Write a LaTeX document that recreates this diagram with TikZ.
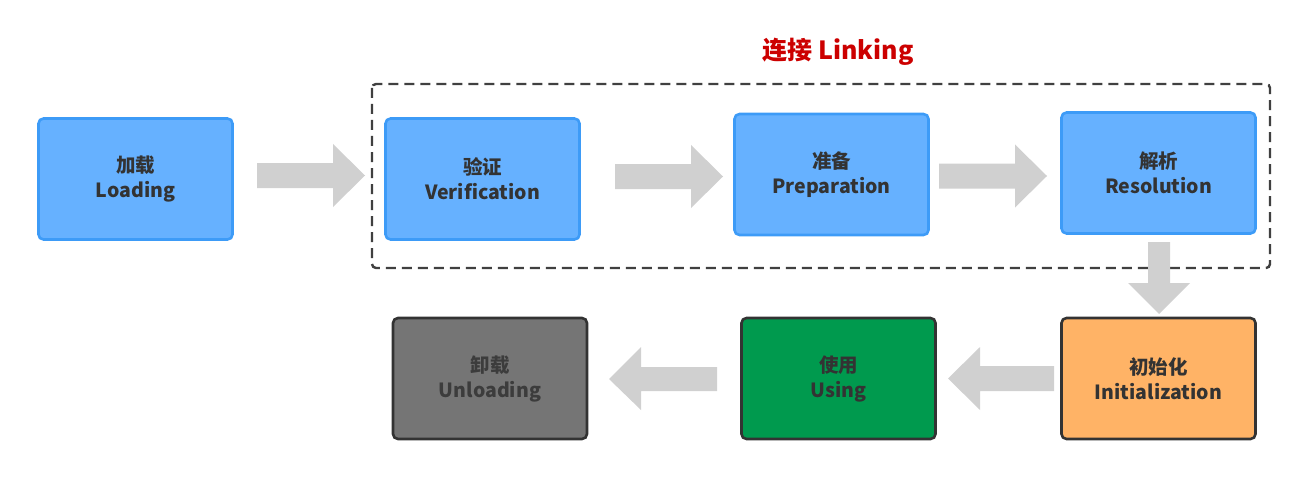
\documentclass[tikz,border=0pt]{standalone}
\usepackage{fontspec}
\setmainfont{Noto Sans CJK SC}
\definecolor{bluefill}{HTML}{66B1FF}
\definecolor{blueline}{HTML}{3D9BF7}
\definecolor{darkline}{HTML}{333333}
\definecolor{txt}{HTML}{333333}
\definecolor{orangefill}{HTML}{FFB366}
\definecolor{greenfill}{HTML}{009A4E}
\definecolor{grayfill}{HTML}{757575}
\definecolor{graytxt}{HTML}{3C3C3C}
\definecolor{arrowgray}{HTML}{D0D0D0}
\definecolor{titlered}{HTML}{CC0000}
\definecolor{frameline}{HTML}{404040}
\tikzset{
  stagebox/.style={draw, line width=2.6pt, rounded corners=5pt, minimum width=194pt, minimum height=121pt,
    inner sep=0pt, align=center, text=txt, font=\fontsize{19.5}{25}\selectfont\bfseries},
  bluebox/.style={stagebox, fill=bluefill, draw=blueline},
  orangebox/.style={stagebox, fill=orangefill, draw=darkline},
  greenbox/.style={stagebox, fill=greenfill, draw=darkline},
  graybox/.style={stagebox, fill=grayfill, draw=darkline, text=graytxt},
  blockarrow/.style={fill=arrowgray, draw=none},
  linkframe/.style={draw=frameline, line width=2.4pt, dash pattern=on 10pt off 6pt, rounded corners=4pt},
}
\begin{document}
\begin{tikzpicture}[x=1pt,y=-1pt]
\useasboundingbox (0,0) rectangle (1290,484);
% dashed linking frame
\draw[linkframe] (372,84) rectangle (1270,268);
\node[text=titlered, font=\fontsize{25}{30}\selectfont\bfseries] (title) at (838,52) {连接 Linking};
% boxes
\node[bluebox] (load) at (135.5,179) {加载\\Loading};
\node[bluebox] (verif) at (482.5,179) {验证\\Verification};
\node[bluebox] (prep) at (831.5,174.5) {准备\\Preparation};
\node[bluebox] (resol) at (1158.5,173) {解析\\Resolution};
\node[orangebox] (init) at (1158.5,378.5) {初始化\\Initialization};
\node[greenbox] (using) at (838.5,378.5) {使用\\Using};
\node[graybox] (unload) at (490,378.5) {卸载\\Unloading};
% block arrows (right)
\fill[blockarrow] (257,163) -- (333,163) -- (333,144) -- (365,175.5) -- (333,207) -- (333,188) -- (257,188) -- cycle;
\fill[blockarrow] (615,164) -- (691,164) -- (691,145) -- (723,176.5) -- (691,208) -- (691,189) -- (615,189) -- cycle;
\fill[blockarrow] (939,163.5) -- (1015,163.5) -- (1015,144.5) -- (1047,176) -- (1015,207.5) -- (1015,188.5) -- (939,188.5) -- cycle;
% down arrow
\fill[blockarrow] (1148,242) -- (1170,242) -- (1170,283) -- (1190,283) -- (1159,314) -- (1128,283) -- (1148,283) -- cycle;
% left arrows
\fill[blockarrow] (1054,366) -- (980,366) -- (980,347) -- (948,378.5) -- (980,410) -- (980,391) -- (1054,391) -- cycle;
\fill[blockarrow] (717,367) -- (641,367) -- (641,347) -- (609,379) -- (641,410) -- (641,391) -- (717,391) -- cycle;
\end{tikzpicture}
\end{document}
